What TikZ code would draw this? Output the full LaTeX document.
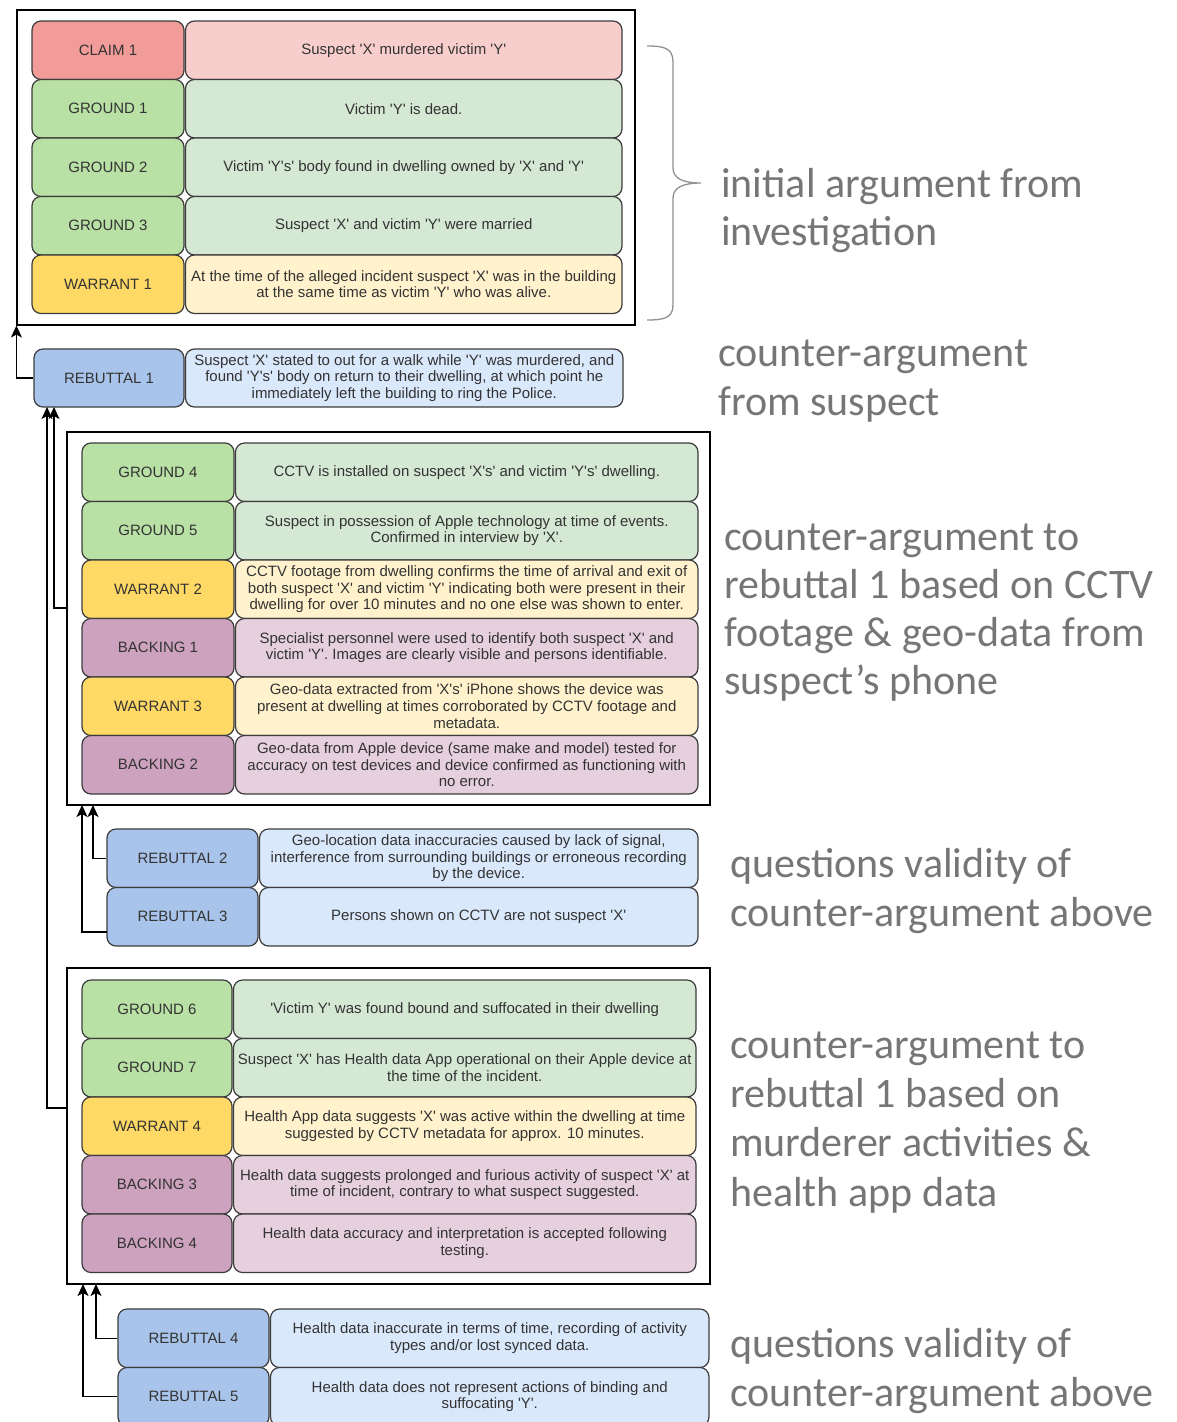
\documentclass[tikz,border=0pt]{standalone}
\usepackage{fontspec}
\newfontfamily\bxfont{Liberation Sans}
\newfontfamily\notefont{Carlito}
\usetikzlibrary{arrows.meta}
\definecolor{claimL}{HTML}{F19C99}\definecolor{claimT}{HTML}{F8CECC}
\definecolor{groundL}{HTML}{B9E0A5}\definecolor{groundT}{HTML}{D5E8D4}
\definecolor{warrantL}{HTML}{FFD966}\definecolor{warrantT}{HTML}{FFF2CC}
\definecolor{backingL}{HTML}{CDA2BE}\definecolor{backingT}{HTML}{E6D0DE}
\definecolor{rebutL}{HTML}{A9C4EB}\definecolor{rebutT}{HTML}{DAE8FC}
\definecolor{strk}{HTML}{3C3C3C}
\definecolor{txt}{HTML}{333333}
\definecolor{notegray}{HTML}{767676}
\newcommand\argrow[9]{%
  \node[cell,fill=#2L,minimum width={(#4-#3)*1pt},minimum height={#7*1pt}] (#1L) at ({(#3+#4)/2},{#6+#7/2}) {#8};
  \node[cell,fill=#2T,minimum width={(#5-#4-1.5)*1pt},minimum height={#7*1pt}] (#1T) at ({(#4+1.5+#5)/2},{#6+#7/2}) {#9};
}
\begin{document}
\begin{tikzpicture}[x=1pt,y=-1pt,
  cell/.style={draw=strk,line width=1.2pt,rounded corners=9pt,align=center,inner sep=2pt,text=txt,font=\bxfont\fontsize{15}{16.7}\selectfont},
  frame/.style={draw=black,line width=1.1pt,inner sep=0pt},
  conn/.style={draw=black,line width=1.1pt,-{Stealth[length=12pt,width=11pt,inset=3pt]}},
  note/.style={text=notegray,font=\notefont\fontsize{42}{48}\selectfont,inner sep=0pt,anchor=base west},
  bracestyle/.style={draw=notegray!80,line width=1.3pt}]
\useasboundingbox (0,0) rectangle (1176,1422);
\fill[white] (0,0) rectangle (1176,1422);

% frames
\node[frame,minimum width=618pt,minimum height=315pt] (f1) at (326,167.5) {};
\node[frame,minimum width=643pt,minimum height=373pt] (f2) at (388.5,618.5) {};
\node[frame,minimum width=643pt,minimum height=316pt] (f3) at (388.5,1126) {};

% box 1
\argrow{c1}{claim}{32}{184}{622}{21}{58.5}{CLAIM 1}{Suspect 'X' murdered victim 'Y'}
\argrow{g1}{ground}{32}{184}{622}{79.5}{58.5}{GROUND 1}{Victim 'Y' is dead.}
\argrow{g2}{ground}{32}{184}{622}{138}{58.5}{GROUND 2}{Victim 'Y's' body found in dwelling owned by 'X' and 'Y'}
\argrow{g3}{ground}{32}{184}{622}{196.5}{58.5}{GROUND 3}{Suspect 'X' and victim 'Y' were married}
\argrow{w1}{warrant}{32}{184}{622}{255}{58.5}{WARRANT 1}{At the time of the alleged incident suspect 'X' was in the building\\at the same time as victim 'Y' who was alive.}

% rebuttal 1
\argrow{r1}{rebut}{34}{184}{623}{349}{58}{REBUTTAL 1}{Suspect 'X' stated to out for a walk while 'Y' was murdered, and\\found 'Y's' body on return to their dwelling, at which point he\\immediately left the building to ring the Police.}

% box 2
\argrow{g4}{ground}{82}{234}{698}{443}{58.5}{GROUND 4}{CCTV is installed on suspect 'X's' and victim 'Y's' dwelling.}
\argrow{g5}{ground}{82}{234}{698}{501.5}{58.5}{GROUND 5}{Suspect in possession of Apple technology at time of events.\\Confirmed in interview by 'X'.}
\argrow{w2}{warrant}{82}{234}{698}{560}{58.5}{WARRANT 2}{CCTV footage from dwelling confirms the time of arrival and exit of\\both suspect 'X' and victim 'Y' indicating both were present in their\\dwelling for over 10 minutes and no one else was shown to enter.}
\argrow{b1}{backing}{82}{234}{698}{618.5}{58.5}{BACKING 1}{Specialist personnel were used to identify both suspect 'X' and\\victim 'Y'. Images are clearly visible and persons identifiable.}
\argrow{w3}{warrant}{82}{234}{698}{677}{58.5}{WARRANT 3}{Geo-data extracted from 'X's' iPhone shows the device was\\present at dwelling at times corroborated by CCTV footage and\\metadata.}
\argrow{b2}{backing}{82}{234}{698}{735.5}{58.5}{BACKING 2}{Geo-data from Apple device (same make and model) tested for\\accuracy on test devices and device confirmed as functioning with\\no error.}

% rebuttals 2, 3
\argrow{r2}{rebut}{107}{258}{698}{829}{58.5}{REBUTTAL 2}{Geo-location data inaccuracies caused by lack of signal,\\interference from surrounding buildings or erroneous recording\\by the device.}
\argrow{r3}{rebut}{107}{258}{698}{887.5}{58.5}{REBUTTAL 3}{Persons shown on CCTV are not suspect 'X'}

% box 3
\argrow{g6}{ground}{82}{232}{696}{980}{58.5}{GROUND 6}{'Victim Y' was found bound and suffocated in their dwelling}
\argrow{g7}{ground}{82}{232}{696}{1038.5}{58.5}{GROUND 7}{Suspect 'X' has Health data App operational on their Apple device at\\the time of the incident.}
\argrow{w4}{warrant}{82}{232}{696}{1097}{58.5}{WARRANT 4}{Health App data suggests 'X' was active within the dwelling at time\\suggested by CCTV metadata for approx. 10 minutes.}
\argrow{b3}{backing}{82}{232}{696}{1155.5}{58.5}{BACKING 3}{Health data suggests prolonged and furious activity of suspect 'X' at\\time of incident, contrary to what suspect suggested.}
\argrow{b4}{backing}{82}{232}{696}{1214}{58.5}{BACKING 4}{Health data accuracy and interpretation is accepted following\\testing.}

% rebuttals 4, 5
\argrow{r4}{rebut}{118}{269}{709}{1309}{58.5}{REBUTTAL 4}{Health data inaccurate in terms of time, recording of activity\\types and/or lost synced data.}
\argrow{r5}{rebut}{118}{269}{709}{1367.5}{58.5}{REBUTTAL 5}{Health data does not represent actions of binding and\\suffocating 'Y'.}

% connector end points
\coordinate (t2) at (54,407);
\coordinate (t3) at (47,407);
\coordinate (a2) at (67,608);
\coordinate (a3) at (67,1108);
\coordinate (t4) at (93,805);
\coordinate (t5) at (82,805);
\coordinate (s3) at (107,932);
\coordinate (t6) at (96,1284);
\coordinate (t7) at (83,1284);

% connectors
\draw[conn] (r1L.west) -| (f1.south west);
\draw[conn] (a2) -| (t2);
\draw[conn] (a3) -| (t3);
\draw[conn] (r2L.west) -| (t4);
\draw[conn] (s3) -| (t5);
\draw[conn] (r4L.west) -| (t6);
\draw[conn] (r5L.west) -| (t7);

% brace
\draw[bracestyle] (647,46) .. controls (664,46) and (673,48) .. (673,62) -- (673,168)
  .. controls (673,179) and (684,183) .. (701,183)
  .. controls (684,183) and (673,187) .. (673,198) -- (673,305)
  .. controls (673,318) and (664,320) .. (647,320);

% annotations
\node[note] (nA1) at (721,197) {initial argument from};
\node[note] (nA2) at (721,245) {investigation};
\node[note] (nB1) at (718,366) {counter-argument};
\node[note] (nB2) at (718,415) {from suspect};
\node[note] (nC1) at (724,550) {counter-argument to};
\node[note] (nC2) at (724,598) {rebuttal 1 based on CCTV};
\node[note] (nC3) at (724,646) {footage \& geo-data from};
\node[note] (nC4) at (724,694) {suspect’s phone};
\node[note] (nD1) at (730,877) {questions validity of};
\node[note] (nD2) at (730,926) {counter-argument above};
\node[note] (nE1) at (730,1058) {counter-argument to};
\node[note] (nE2) at (730,1107) {rebuttal 1 based on};
\node[note] (nE3) at (730,1156) {murderer activities \&};
\node[note] (nE4) at (730,1206) {health app data};
\node[note] (nF1) at (730,1357) {questions validity of};
\node[note] (nF2) at (730,1406) {counter-argument above};
\end{tikzpicture}
\end{document}
